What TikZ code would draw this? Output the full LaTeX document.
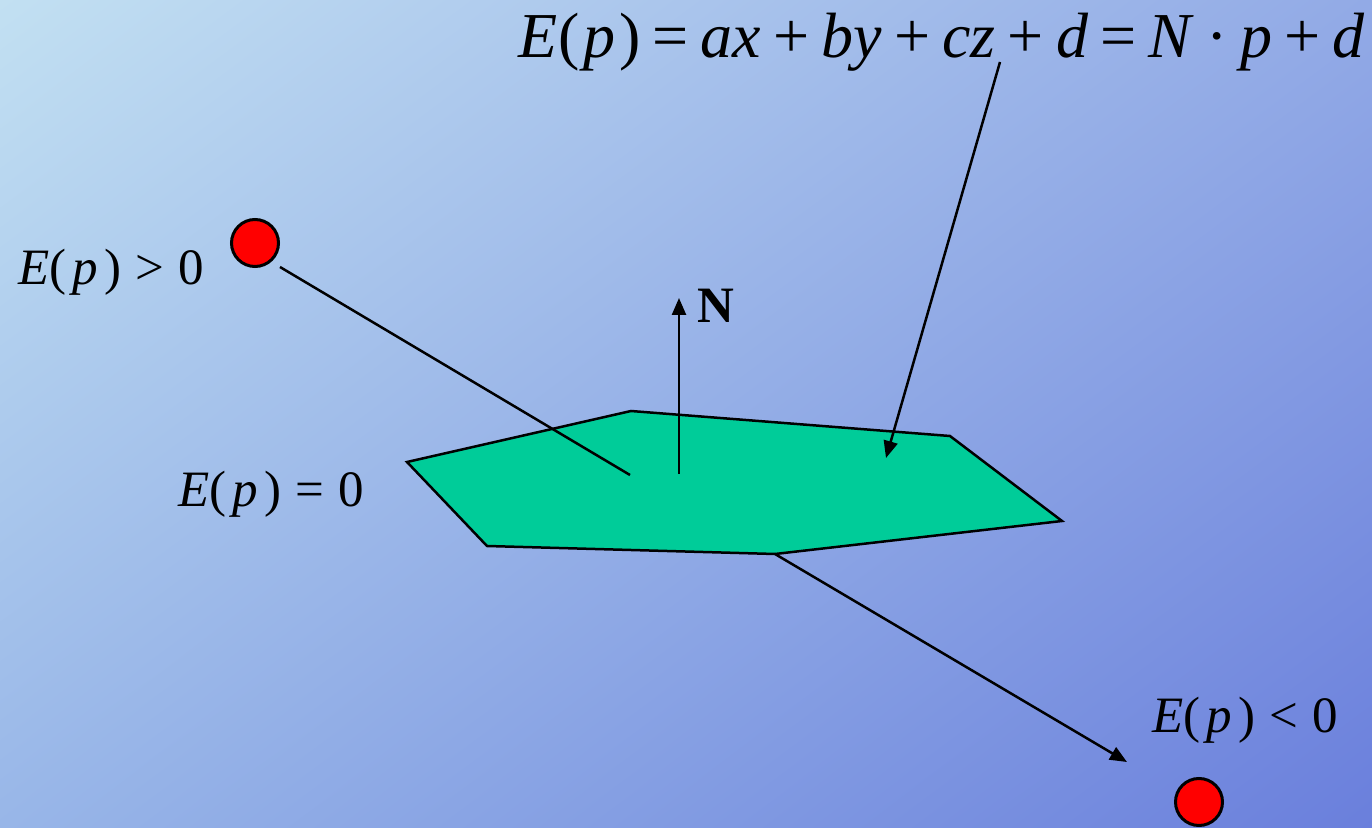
\documentclass[tikz,border=0pt]{standalone}
\usepackage{fontspec}
\setmainfont{Liberation Serif}
\usetikzlibrary{arrows.meta,shadings}
\newcommand\gp{\hspace{0.28em}}
\newcommand\go{\hspace{0.19em}}
\newcommand\gi{\hspace{0.06em}}
\newcommand\gj{\hspace{0.12em}}
\newcommand\vv[1]{\textit{#1}}
\definecolor{bgul}{RGB}{194,224,242}
\definecolor{bgur}{RGB}{146,170,230}
\definecolor{bgll}{RGB}{152,182,232}
\definecolor{bglr}{RGB}{106,127,220}
\definecolor{planegreen}{RGB}{0,204,153}
\begin{document}
\begin{tikzpicture}[x=0.5pt,y=-0.5pt,
  conn/.style={line width=1.25pt,black},
  tip/.style={-{Triangle[length=8.5pt,width=7pt]}},
  ball/.style={circle,draw=black,line width=1.5pt,fill=red,minimum size=23.5pt,inner sep=0pt},
  biglbl/.style={font=\fontsize{32}{35}\selectfont,inner sep=0pt},
  lbl/.style={font=\fontsize{25.5}{28}\selectfont,inner sep=0pt}]
\useasboundingbox (0,0) rectangle (1372,828);
\shade[upper left=bgul, upper right=bgur, lower left=bgll, lower right=bglr]
  (0,0) rectangle (1372,828);
% plane
\coordinate (p1) at (407,462);
\coordinate (p2) at (631,411);
\coordinate (p3) at (950,436);
\coordinate (p4) at (1062,521);
\coordinate (p5) at (775,554);
\coordinate (p6) at (487,546);
\draw[conn,fill=planegreen] (p1)--(p2)--(p3)--(p4)--(p5)--(p6)--cycle;
% balls
\node[ball] (b1) at (255,243) {};
\node[ball] (b2) at (1199,802) {};
% labels
\node[biglbl,anchor=base east] (eq) at (1365,58) {\vv{E}(\gi\vv{p}\gi)\go=\go\vv{ax}\go+\go\vv{by}\go+\go\vv{cz}\go+\go\vv{d}\go=\go\vv{N}\go·\go\vv{p}\go+\go\vv{d}};
\node[lbl,anchor=base west] (lpos) at (18,285) {\vv{E}(\gj\vv{p}\gj)\gp>\gp0};
\node[lbl,anchor=base west] (lzero) at (178,507) {\vv{E}(\gj\vv{p}\gj)\gp=\gp0};
\node[lbl,anchor=base west] (lneg) at (1152,733) {\vv{E}(\gj\vv{p}\gj)\gp<\gp0};
\node[lbl,anchor=base west,font=\fontsize{25.5}{28}\selectfont\bfseries] (nl) at (697,323) {N};
% connectors
\coordinate (c1) at (280,267);
\coordinate (c2) at (630,475);
\draw[conn] (c1) -- (c2);
\coordinate (n0) at (679,474);
\coordinate (n1) at (679,298);
\draw[conn,tip] (n0) -- (n1);
\coordinate (e0) at (1000,62);
\coordinate (e1) at (886,458);
\draw[conn,tip] (e0) -- (e1);
\coordinate (m1) at (1127,762);
\draw[conn,tip] (p5) -- (m1);
\end{tikzpicture}
\end{document}
